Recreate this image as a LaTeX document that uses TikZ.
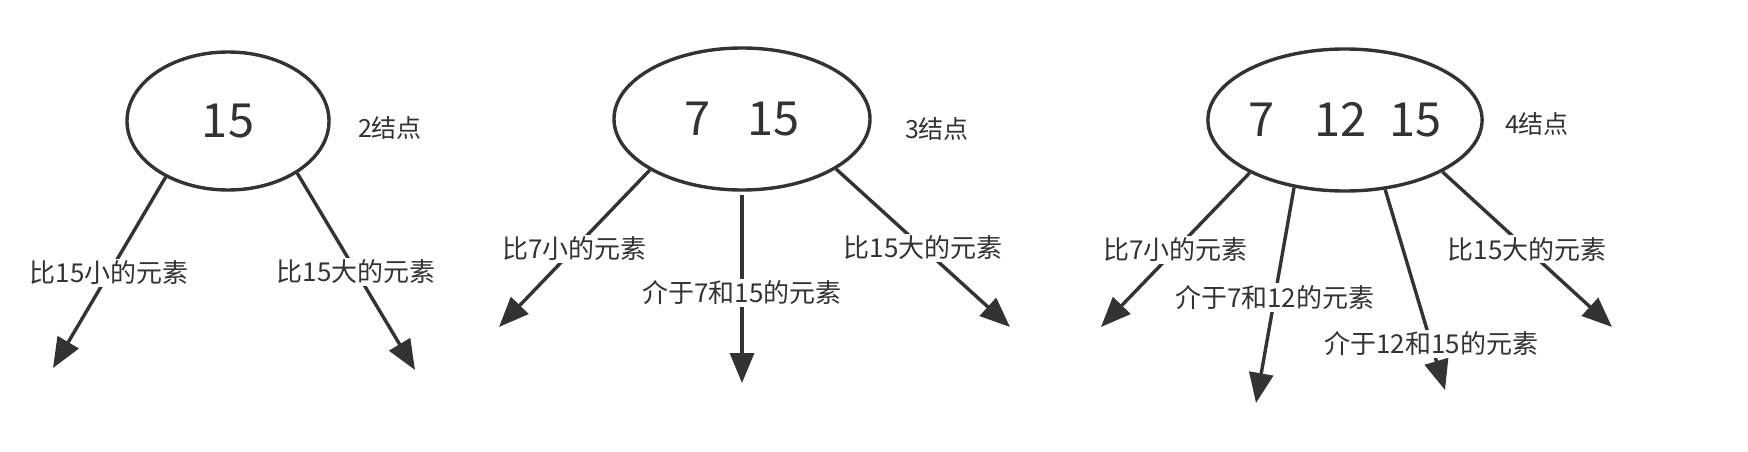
\documentclass[tikz,border=0pt]{standalone}
\usepackage{fontspec}
\setmainfont{Noto Sans CJK SC}
\usetikzlibrary{shapes.geometric, arrows.meta}
\definecolor{ink}{RGB}{51, 51, 51}

\begin{document}
\begin{tikzpicture}[x=1pt, y=-1pt,
	knot/.style={draw=ink, line width=3.4pt, ellipse, inner sep=0pt, text=ink, font=\fontsize{47}{56}\selectfont},
	arr/.style={color=ink, line width=3.4pt, -{Triangle[length=30pt, width=24pt]}},
	lbl/.style={fill=white, text=ink, inner sep=2pt, font=\fontsize{26}{31}\selectfont},
	note/.style={text=ink, font=\fontsize{25}{30}\selectfont}]
	\useasboundingbox (0,0) rectangle (1748,452);
	% 2-node
	\node[knot, minimum width=202pt, minimum height=138pt] (a) at (228,121) {15};
	\node[note] (na) at (390,128) {2结点};
	\coordinate (a1) at (53,368);
	\coordinate (a2) at (415,370);
	\draw[arr] (a.-138.8) -- node[lbl, pos=0.5] (la1) {比15小的元素} (a1);
	\draw[arr] (a.-37.3) -- node[lbl, pos=0.5] (la2) {比15大的元素} (a2);
	% 3-node
	\node[knot, minimum width=256pt, minimum height=142pt] (b) at (742,119) {7\hspace{0.8em}15};
	\node[note] (nb) at (937,129) {3结点};
	\coordinate (b1) at (499,327);
	\coordinate (b2) at (742,383);
	\coordinate (b3) at (1010,327);
	\draw[arr] (b.-151.1) -- node[lbl, pos=0.5] (lb1) {比7小的元素} (b1);
	\draw[arr] (b.south) ++(0,3) -- node[lbl, pos=0.52] (lb2) {介于7和15的元素} (b2);
	\draw[arr] (b.-28.2) -- node[lbl, pos=0.5] (lb3) {比15大的元素} (b3);
	% 4-node
	\node[knot, minimum width=256pt, minimum height=142pt] (c) at (1345,120) {7\hspace{0.85em}12\hspace{0.5em}15};
	\node[note] (nc) at (1537,124) {4结点};
	\coordinate (c1) at (1101,327);
	\coordinate (c2) at (1256,403);
	\coordinate (c3) at (1445,390);
	\coordinate (c4) at (1612,327);
	\draw[arr] (c.-151.8) -- node[lbl, pos=0.5] (lc1) {比7小的元素} (c1);
	\draw[arr] (c.-127.8) -- node[lbl, pos=0.51] (lc2) {介于7和12的元素} (c2);
	\draw[arr] (c.-60.8) -- node[lbl, pos=0.77] (lc3) {介于12和15的元素} (c3);
	\draw[arr] (c.-28.7) -- node[lbl, pos=0.5] (lc4) {比15大的元素} (c4);
\end{tikzpicture}
\end{document}
